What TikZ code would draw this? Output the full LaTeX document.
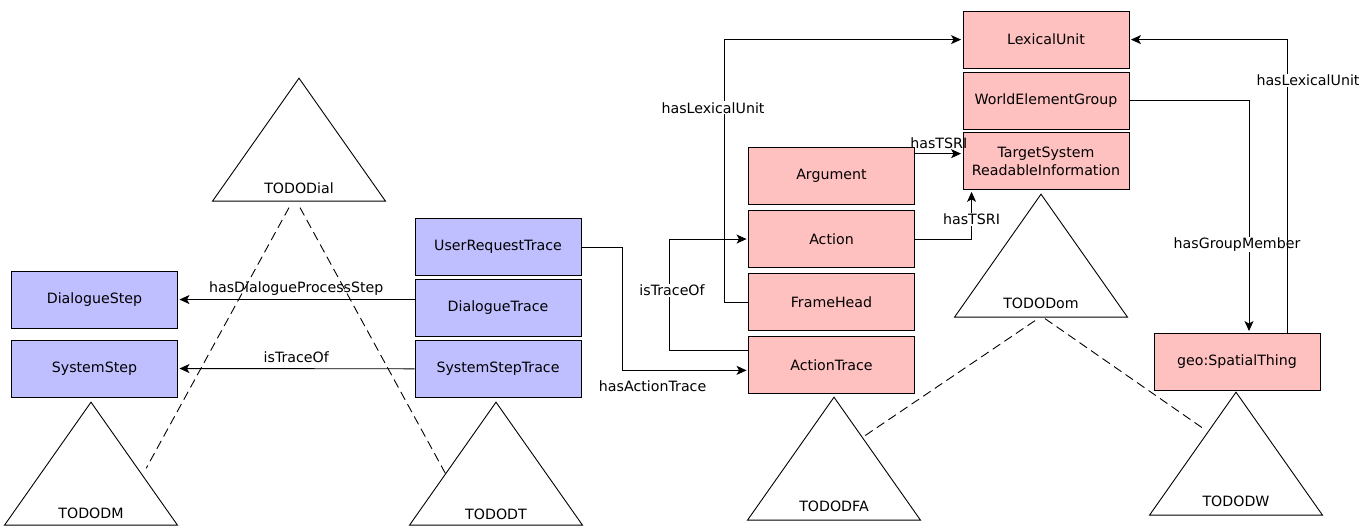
\documentclass[tikz,border=0pt]{standalone}
\usepackage{fontspec}
\setmainfont{DejaVu Sans}
\usepackage{tikz}
\usetikzlibrary{shapes.geometric}
\usetikzlibrary{arrows.meta}
\usetikzlibrary{calc}
\usepackage{xcolor}
\definecolor{tikz-blue}{HTML}{BFBFFF}
\definecolor{tikz-pink}{HTML}{FFC0C0}
\tikzset{every text node part/.style={align=center, font={\fontsize{14.2}{18}\selectfont}}}
\tikzstyle{cls} = [draw=black, line width=0.9pt, minimum width=166pt, minimum height=57pt, inner sep=0pt]
\tikzstyle{B} = [cls, fill=tikz-blue]
\tikzstyle{P} = [cls, fill=tikz-pink]
\tikzstyle{tri} = [isosceles triangle, shape border rotate=90, isosceles triangle stretches, draw, line width=0.9pt, minimum width=173pt, minimum height=123pt, inner sep=0pt, anchor=apex]
\tikzstyle{ln} = [draw, line width=0.9pt, arrows={-Stealth[length=10pt, width=9pt, inset=2.5pt]}, shorten >=1.5pt]
\tikzstyle{dsh} = [draw, dash pattern=on 9pt off 5pt, line width=0.9pt]
\tikzstyle{lbl} = [fill=white, inner sep=1pt]
\begin{document}
\begin{tikzpicture}[x=1pt, y=-1pt]
      \useasboundingbox (0,0) rectangle (1367,530);
      \matrix[row sep=11pt](steps) at (94.5,334){
        \node[B] (ds) {DialogueStep}; \\
        \node[B] (ss) {SystemStep}; \\
      };
      \matrix[row sep=3pt](traces) at (498,308){
        \node[B] (urt) {UserRequestTrace}; \\
        \node[B] (dtr) {DialogueTrace}; \\
        \node[B] (sst) {SystemStepTrace}; \\
      };
      \matrix[row sep=5pt](frame) at (831.5,270.5){
        \node[P] (arg) {Argument}; \\
        \node[P] (act) {Action}; \\
        \node[P] (fh) {FrameHead}; \\
        \node[P] (at) {ActionTrace}; \\
      };
      \matrix[row sep=3pt](dom) at (1046,100.5){
        \node[P] (lu) {LexicalUnit}; \\
        \node[P] (weg) {WorldElementGroup}; \\
        \node[P] (tsri) {TargetSystem\\ReadableInformation}; \\
      };
      \node[P] (geo) at (1237,361.5) {geo:SpatialThing};
      % ontology modules
      \node[tri] (tdial) at (299,77) {};
      \node[tri] (tdm) at (91,401) {};
      \node[tri] (tdt) at (496,401) {};
      \node[tri] (tdom) at (1041,193) {};
      \node[tri] (tdfa) at (834,396) {};
      \node[tri] (tdw) at (1236,391) {};
      \node[anchor=base] at ([yshift=8pt]tdial.lower side) {TODODial};
      \node[anchor=base] at ([yshift=7pt]tdm.lower side) {TODODM};
      \node[anchor=base] at ([yshift=6pt]tdt.lower side) {TODODT};
      \node[anchor=base] at ([yshift=9pt]tdom.lower side) {TODODom};
      \node[anchor=base] at ([yshift=9pt]tdfa.lower side) {TODODFA};
      \node[anchor=base] at ([yshift=9pt]tdw.lower side) {TODODW};
      \draw[dsh] ([xshift=-10pt,yshift=-6pt]tdial.lower side) -- ([xshift=8pt]$(tdm.apex)!0.54!(tdm.right corner)$);
      \draw[dsh] ([xshift=1pt,yshift=-6pt]tdial.lower side) -- ($(tdt.apex)!0.58!(tdt.left corner)$);
      \draw[dsh] ([xshift=-6pt,yshift=-3pt]tdom.lower side) -- ($(tdfa.apex)!0.33!(tdfa.right corner)$);
      \draw[dsh] ([xshift=4pt,yshift=-1pt]tdom.lower side) -- ([xshift=-4pt]$(tdw.apex)!0.31!(tdw.left corner)$);
      % relations
      \draw[ln] (dtr.west |- ds) -- node[above]{hasDialogueProcessStep} (ds);
      \draw[ln] (sst) -- node[above=2pt]{isTraceOf} (ss);
      \draw[ln] (urt.east) -- ++(41,0) |- node[pos=0.62, below=7pt]{hasActionTrace} ([yshift=-5.5pt]at.west);
      \draw[ln] ([yshift=14.5pt]at.west) -- ++(-79,0) |- node[pos=0.27, lbl, xshift=3pt]{isTraceOf} (act);
      \draw[ln] (fh.west) -- ++(-24,0) |- node[pos=0.37, lbl, xshift=-11pt]{hasLexicalUnit} (lu);
      \draw[ln] ([yshift=22.5pt]arg.east) -- node[above=1pt]{hasTSRI} ([yshift=22.5pt]arg.east -| tsri.west);
      \draw[ln] (act.east) -| node[pos=0.7, lbl]{hasTSRI} ([xshift=9pt]tsri.south west);
      \draw[ln] (weg.east) -| node[pos=0.81, lbl, xshift=-12pt]{hasGroupMember} ([xshift=12pt]geo.north);
      \draw[ln] ([xshift=50pt]geo.north) |- node[pos=0.43, lbl, xshift=21pt]{hasLexicalUnit} (lu);
    \end{tikzpicture}
\end{document}
